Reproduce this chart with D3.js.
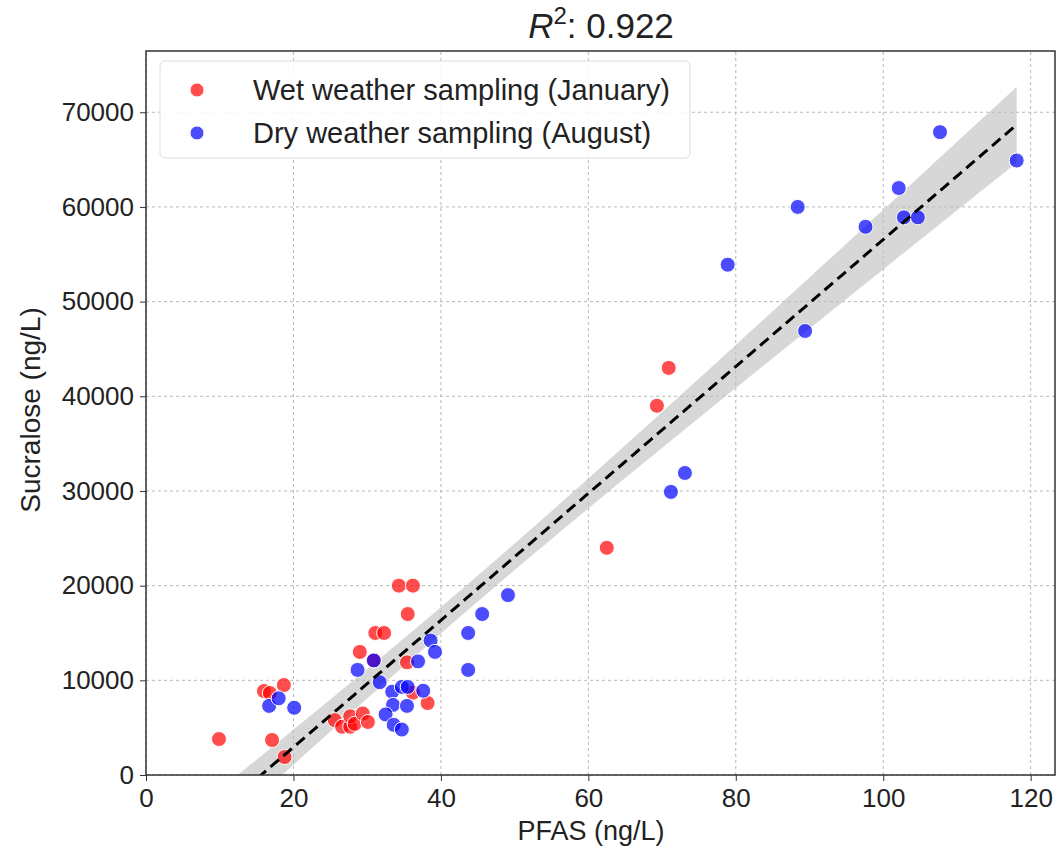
<!DOCTYPE html>
<html>
<head>
<meta charset="utf-8">
<script src="https://cdn.jsdelivr.net/npm/d3@7"></script>
<style>
  body { margin: 0; background: #fff; }
  svg { font-family: "Liberation Sans", Arial, sans-serif; }
  .grid line { stroke: #b8b8b8; stroke-dasharray: 3,3; stroke-width: 1; }
  .axis text { font-size: 26px; fill: #222; }
  .axis line { stroke: #333; }
</style>
</head>
<body>
<div id="chart"></div>
<script>
// wet weather (January) samples: PFAS (ng/L), sucralose (ng/L)
const wetPfas = [9.9, 16.0, 16.8, 18.7, 17.1, 18.8, 25.6, 26.6, 27.7, 27.7, 28.3, 29.4, 30.1,
  29.0, 31.1, 32.3, 34.3, 36.2, 35.5, 35.4, 30.9, 36.2, 38.2, 62.5, 69.3, 70.9];
const wetSucralose = [3800, 8870, 8660, 9500, 3700, 1900, 5800, 5100, 5100, 6200, 5400, 6500, 5600,
  13000, 15000, 15000, 20000, 20000, 17000, 11900, 12100, 8700, 7600, 24000, 39000, 43000];

// dry weather (August) samples
const dryPfas = [16.7, 18.0, 20.1, 28.7, 30.9, 31.7, 33.4, 34.7, 35.5, 37.6, 33.5, 35.4, 32.5,
  33.6, 34.7, 36.9, 38.6, 39.2, 43.7, 43.7, 45.6, 49.1, 71.2, 73.1, 78.9, 88.4, 89.4, 97.6,
  102.1, 102.8, 104.7, 107.7, 118.1];
const drySucralose = [7300, 8100, 7100, 11100, 12100, 9800, 8800, 9300, 9300, 8900, 7400, 7300, 6400,
  5300, 4800, 12000, 14200, 13000, 15000, 11100, 17000, 19000, 29900, 31900, 53900, 60000, 46900, 57900,
  62000, 58900, 58900, 67900, 64900];

const xTicks = [0, 20, 40, 60, 80, 100, 120];
const yTicks = [0, 10000, 20000, 30000, 40000, 50000, 60000, 70000];
const seriesNames = ["Wet weather sampling (January)", "Dry weather sampling (August)"];
const r2Text = "0.922";

const W = 1057, H = 848;
const margin = { top: 51, right: 2, bottom: 73, left: 146 };

const svg = d3.select("#chart").append("svg").attr("width", W).attr("height", H);

const x = d3.scaleLinear().domain([0, 123.3]).range([margin.left, W - margin.right]);
const y = d3.scaleLinear().domain([0, 76470]).range([H - margin.bottom, margin.top]);

// grid
svg.append("g").attr("class", "grid")
  .selectAll("line.v").data(xTicks).join("line")
  .attr("x1", d => x(d)).attr("x2", d => x(d))
  .attr("y1", y.range()[0]).attr("y2", y.range()[1]);
svg.append("g").attr("class", "grid")
  .selectAll("line.h").data(yTicks).join("line")
  .attr("x1", x.range()[0]).attr("x2", x.range()[1])
  .attr("y1", d => y(d)).attr("y2", d => y(d));

// combined data for the fit
const all = wetPfas.map((d, i) => [d, wetSucralose[i]])
  .concat(dryPfas.map((d, i) => [d, drySucralose[i]]));
const n = all.length;
const mx = d3.mean(all, d => d[0]), my = d3.mean(all, d => d[1]);
const sxx = d3.sum(all, d => (d[0] - mx) ** 2);
const sxy = d3.sum(all, d => (d[0] - mx) * (d[1] - my));
const slope = sxy / sxx, icpt = my - slope * mx;
const sres = Math.sqrt(d3.sum(all, d => (d[1] - icpt - slope * d[0]) ** 2) / (n - 2));
const tval = 2.0;
const xmin = d3.min(all, d => d[0]), xmax = d3.max(all, d => d[0]);
const grid = d3.range(0, 101).map(i => xmin + (xmax - xmin) * i / 100);
const band = grid.map(gx => {
  const yh = icpt + slope * gx;
  const se = sres * Math.sqrt(1 / n + (gx - mx) ** 2 / sxx);
  return { x: gx, y: yh, lo: yh - tval * se, hi: yh + tval * se };
});

svg.append("clipPath").attr("id", "clip").append("rect")
  .attr("x", margin.left).attr("y", margin.top)
  .attr("width", W - margin.left - margin.right).attr("height", H - margin.top - margin.bottom);

const plot = svg.append("g").attr("clip-path", "url(#clip)");

plot.append("path").datum(band)
  .attr("d", d3.area().x(d => x(d.x)).y0(d => y(d.lo)).y1(d => y(d.hi)))
  .attr("fill", "#bdbdbd").attr("opacity", 0.6);

const dots = plot.append("g");
dots.selectAll("circle.wet").data(wetPfas).join("circle")
  .attr("cx", d => x(d)).attr("cy", (d, i) => y(wetSucralose[i])).attr("r", 7.5)
  .attr("fill", "red").attr("fill-opacity", 0.7).attr("stroke", "#fff").attr("stroke-width", 1);
dots.selectAll("circle.dry").data(dryPfas).join("circle")
  .attr("cx", d => x(d)).attr("cy", (d, i) => y(drySucralose[i])).attr("r", 7.5)
  .attr("fill", "blue").attr("fill-opacity", 0.7).attr("stroke", "#fff").attr("stroke-width", 1);

plot.append("path").datum(band)
  .attr("d", d3.line().x(d => x(d.x)).y(d => y(d.y)))
  .attr("fill", "none").attr("stroke", "#000").attr("stroke-width", 3)
  .attr("stroke-dasharray", "11,6");

// axes
svg.append("g").attr("class", "axis")
  .attr("transform", `translate(0,${y.range()[0]})`)
  .call(d3.axisBottom(x).tickValues(xTicks).tickSize(6).tickPadding(8))
  .call(g => g.select(".domain").remove());
svg.append("g").attr("class", "axis")
  .attr("transform", `translate(${margin.left},0)`)
  .call(d3.axisLeft(y).tickValues(yTicks).tickSize(6).tickPadding(6).tickFormat(d3.format("d")))
  .call(g => g.select(".domain").remove());

svg.append("rect")
  .attr("x", margin.left).attr("y", margin.top)
  .attr("width", W - margin.left - margin.right).attr("height", H - margin.top - margin.bottom)
  .attr("fill", "none").attr("stroke", "#333").attr("stroke-width", 1.5);

// labels
svg.append("text").attr("x", 591).attr("y", 840).attr("text-anchor", "middle")
  .attr("font-size", 27).attr("fill", "#222").text("PFAS (ng/L)");
svg.append("text").attr("transform", "translate(40,410) rotate(-90)").attr("text-anchor", "middle")
  .attr("font-size", 28).attr("fill", "#222").text("Sucralose (ng/L)");

const title = svg.append("text").attr("x", 601).attr("y", 38).attr("text-anchor", "middle")
  .attr("font-size", 35).attr("fill", "#222");
title.append("tspan").attr("font-style", "italic").text("R");
title.append("tspan").attr("font-size", 24).attr("dy", -14).text("2");
title.append("tspan").attr("dy", 14).text(": " + r2Text);

// legend
const leg = svg.append("g").attr("transform", "translate(160,61)");
leg.append("rect").attr("width", 530).attr("height", 97).attr("rx", 5)
  .attr("fill", "#fff").attr("fill-opacity", 0.85).attr("stroke", "#ddd");
const legColors = ["red", "blue"];
seriesNames.forEach((name, i) => {
  const row = leg.append("g").attr("transform", `translate(0,${29 + i * 43})`);
  row.append("circle").attr("cx", 37).attr("cy", 0).attr("r", 7)
    .attr("fill", legColors[i]).attr("fill-opacity", 0.7).attr("stroke", "#fff");
  row.append("text").attr("x", 93).attr("y", 10).attr("font-size", 29).attr("fill", "#222").text(name);
});
</script>
</body>
</html>
